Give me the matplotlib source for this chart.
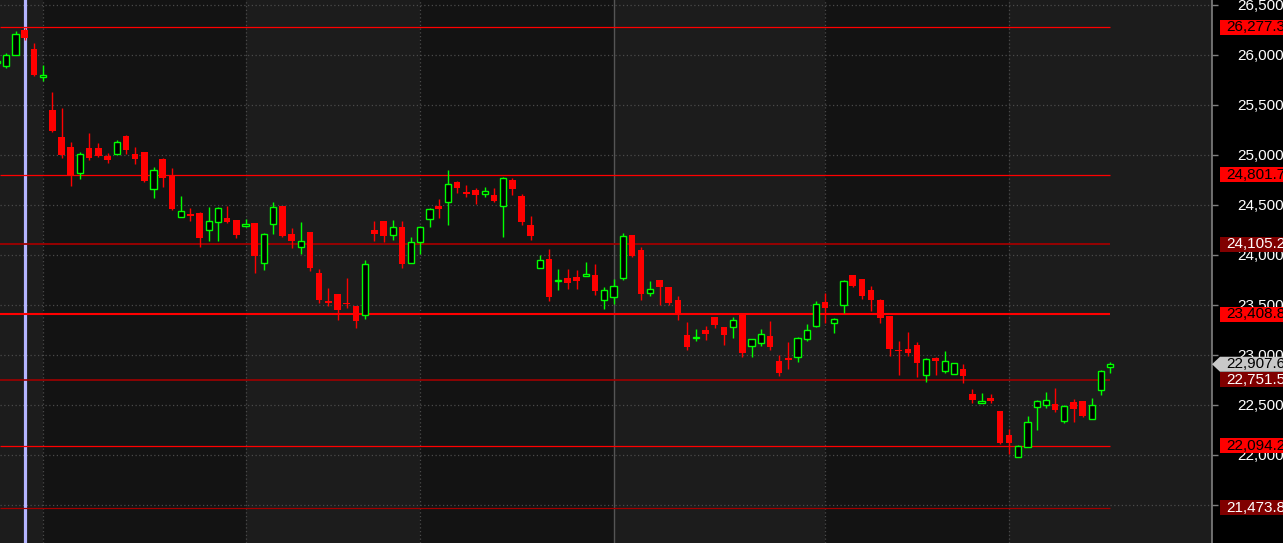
import numpy as np
import matplotlib
matplotlib.use("Agg")
import matplotlib.pyplot as plt
import matplotlib.transforms as mtransforms
from matplotlib.patches import Rectangle, Polygon
from matplotlib.ticker import FuncFormatter

plt.rcParams['font.family'] = ['Liberation Sans', 'DejaVu Sans']

# daily OHLC, one row per session
opens = [25925, 25893, 25997, 26250, 26060, 25785, 25450, 25180, 25080, 24823,
         25070, 25070, 24993, 25013, 25190, 25010, 25030, 24663, 24960, 24797,
         24377, 24405, 24420, 24247, 24327, 24367, 24347, 24297, 24317, 23917,
         24307, 24487, 24210, 24083, 24230, 23817, 23535, 23610, 23520, 23490,
         23403, 24250, 24340, 24203, 24280, 23923, 24133, 24363, 24493, 24533,
         24730, 24625, 24650, 24613, 24600, 24493, 24747, 24590, 24300, 23873,
         23960, 23740, 23770, 23780, 23797, 23800, 23553, 23583, 23773, 24200,
         24050, 23623, 23750, 23680, 23550, 23200, 23170, 23250, 23380, 23280,
         23283, 23420, 23093, 23123, 23190, 22940, 22963, 22977, 23160, 23290,
         23530, 23317, 23503, 23800, 23760, 23650, 23550, 23390, 23050, 23060,
         23100, 22800, 22970, 22840, 22810, 22860, 22610, 22517, 22570, 22440,
         22197, 21977, 22077, 22477, 22503, 22513, 22343, 22533, 22543, 22357,
         22653, 22877]
highs = [25940, 26017, 26237, 26270, 26120, 25897, 25630, 25473, 25130, 25030,
         25220, 25120, 25020, 25150, 25200, 25080, 25030, 24880, 24970, 24870,
         24590, 24470, 24430, 24480, 24477, 24487, 24347, 24360, 24317, 24220,
         24530, 24487, 24267, 24327, 24230, 23860, 23667, 23610, 23770, 23490,
         23950, 24340, 24340, 24353, 24340, 24177, 24293, 24467, 24557, 24847,
         24737, 24697, 24670, 24680, 24667, 24780, 24767, 24610, 24390, 23997,
         24060, 23860, 23860, 23850, 23930, 23910, 23680, 23760, 24220, 24200,
         24080, 23740, 23750, 23680, 23590, 23330, 23260, 23290, 23380, 23280,
         23380, 23420, 23157, 23260, 23340, 23000, 23130, 23180, 23310, 23540,
         23620, 23370, 23750, 23800, 23760, 23690, 23560, 23390, 23140, 23230,
         23130, 22970, 22980, 23040, 22920, 22910, 22657, 22617, 22610, 22440,
         22257, 22100, 22390, 22553, 22630, 22670, 22503, 22563, 22543, 22570,
         22847, 22927]
lows = [25915, 25873, 25997, 26153, 25793, 25743, 25230, 24973, 24693, 24763,
        24953, 24983, 24920, 25013, 25010, 24910, 24730, 24570, 24680, 24450,
        24377, 24340, 24080, 24143, 24143, 24317, 24173, 24277, 23823, 23847,
        24213, 24183, 24073, 24013, 23843, 23517, 23493, 23350, 23473, 23273,
        23363, 24140, 24130, 24150, 23870, 23923, 24013, 24283, 24373, 24303,
        24623, 24583, 24513, 24583, 24530, 24180, 24600, 24300, 24150, 23873,
        23540, 23650, 23660, 23660, 23790, 23600, 23460, 23510, 23750, 23983,
        23550, 23593, 23500, 23500, 23350, 23050, 23140, 23150, 23270, 23100,
        23170, 22980, 22983, 23093, 23050, 22790, 22860, 22930, 23140, 23280,
        23320, 23220, 23420, 23680, 23560, 23440, 23320, 22990, 22800, 22990,
        22780, 22730, 22800, 22820, 22810, 22720, 22523, 22517, 22517, 22110,
        22010, 21977, 22077, 22253, 22473, 22433, 22323, 22333, 22380, 22357,
        22603, 22817]
closes = [25935, 25997, 26207, 26173, 25803, 25795, 25240, 25000, 24797, 25010,
          24973, 24993, 24953, 25130, 25053, 24960, 24737, 24847, 24773, 24457,
          24440, 24400, 24173, 24340, 24467, 24333, 24203, 24303, 23993, 24207,
          24477, 24193, 24143, 24137, 23873, 23550, 23530, 23450, 23515, 23340,
          23907, 24213, 24190, 24277, 23913, 24127, 24277, 24457, 24460, 24707,
          24673, 24620, 24600, 24637, 24540, 24767, 24660, 24330, 24190, 23947,
          23580, 23746, 23720, 23740, 23803, 23640, 23650, 23690, 24190, 23993,
          23610, 23657, 23680, 23520, 23420, 23080, 23177, 23210, 23300, 23200,
          23350, 23020, 23157, 23207, 23080, 22820, 22957, 23170, 23250, 23510,
          23470, 23360, 23740, 23690, 23590, 23550, 23370, 23060, 23045, 23020,
          22920, 22960, 22940, 22940, 22920, 22790, 22550, 22543, 22543, 22117,
          22117, 22090, 22333, 22543, 22550, 22453, 22493, 22463, 22390, 22503,
          22837, 22907.6]

# horizontal support / resistance levels
levels = [26277.3, 24801.7, 24105.2, 23408.8, 22751.5, 22094.2, 21473.8]
level_bright = [True, True, False, True, False, True, False]
level_width = [0.9, 0.9, 1.3, 1.5, 1.2, 0.9, 0.9]

# month boundaries (bar index) for shading and vertical grid
month_starts = [4, 26, 45, 66, 89, 109]
marker_bar = 2
last_price = 22907.6

x = np.arange(-1, len(opens) - 1)
o = np.array(opens, float)
h = np.array(highs, float)
l = np.array(lows, float)
c = np.array(closes, float)

W, H = 1283, 543
fig = plt.figure(figsize=(W / 100, H / 100), dpi=100, facecolor='black')
ax = fig.add_axes([0, 0, 1212 / W, 1])

dark_bg = '#131313'
light_bg = '#1c1c1c'
ax.set_facecolor(dark_bg)

xmin, xmax = -0.685, 131.05
ax.set_xlim(xmin, xmax)
ax.set_ylim(21120, 26550)

# alternating month shading
edges = [xmin] + month_starts + [xmax]
for k in range(len(edges) - 1):
    if k % 2 == 0:
        ax.axvspan(edges[k], edges[k + 1], color=light_bg, lw=0, zorder=0)

# grid
for v in range(21500, 27000, 500):
    ax.axhline(v, color='#4a4a4a', lw=0.9, ls=(0, (1, 2)), zorder=1)
for m in month_starts:
    if m == 66:
        ax.axvline(m, color='#555555', lw=1.0, zorder=1)
    else:
        ax.axvline(m, color='#4a4a4a', lw=0.9, ls=(0, (1, 2)), zorder=1)

ax.axvline(marker_bar, color='#b4b4ff', lw=2.3, zorder=2)

# level lines run up to the latest bar
for lv, bright, lw in zip(levels, level_bright, level_width):
    ax.hlines(lv, xmin, x[-1], color='#ff0000' if bright else '#a00000',
              lw=lw, zorder=2)

# candles
up = c >= o
col = np.where(up, '#00ff00', '#ff0000')
ax.vlines(x, l, h, colors=col, lw=1.0, zorder=3)
body_lo = np.minimum(o, c)
body_hi = np.maximum(o, c)
body_h = np.maximum(body_hi - body_lo, 15)
body_lo = (body_lo + body_hi) / 2 - body_h / 2
ax.bar(x[~up], body_h[~up], bottom=body_lo[~up], width=0.72,
       color='#ff0000', lw=0, zorder=4)
ax.bar(x[up], body_h[up], bottom=body_lo[up], width=0.66,
       facecolor='black', edgecolor='#00ff00', lw=1.0, zorder=4)

# right price axis
ax.yaxis.tick_right()
ax.set_yticks(range(21500, 27000, 500))
ax.yaxis.set_major_formatter(FuncFormatter(lambda v, p: f"{v:,.0f}"))
ax.tick_params(axis='y', colors='#808080', length=4, width=1, pad=14,
               labelcolor='white', labelsize=11)
ax.set_xticks([])
for s in ['top', 'left', 'bottom']:
    ax.spines[s].set_visible(False)
ax.spines['right'].set_color('#808080')
ax.spines['right'].set_linewidth(1.2)

# price tags on the axis
trans = mtransforms.blended_transform_factory(fig.transFigure, ax.transData)
box_h = 150
for lv, bright in zip(levels, level_bright):
    face = '#ff0000' if bright else '#800000'
    tcol = 'black' if bright else 'white'
    fig.add_artist(Rectangle((1220 / W, lv - box_h / 2), 80 / W, box_h,
                             transform=trans, facecolor=face, lw=0, zorder=5))
    fig.text(1226 / W, lv, f"{lv:,.1f}", transform=trans, color=tcol,
             fontsize=11, va='center', ha='left', zorder=6)

pts = [(1212 / W, last_price), (1220 / W, last_price + box_h / 2),
       (1.05, last_price + box_h / 2), (1.05, last_price - box_h / 2),
       (1220 / W, last_price - box_h / 2)]
fig.add_artist(Polygon(pts, closed=True, transform=trans,
                       facecolor='#c8c8c8', lw=0, zorder=5))
fig.text(1226 / W, last_price, f"{last_price:,.1f}", transform=trans,
         color='black', fontsize=11, va='center', ha='left', zorder=6)

fig.savefig('out.png', dpi=100, facecolor='black')
